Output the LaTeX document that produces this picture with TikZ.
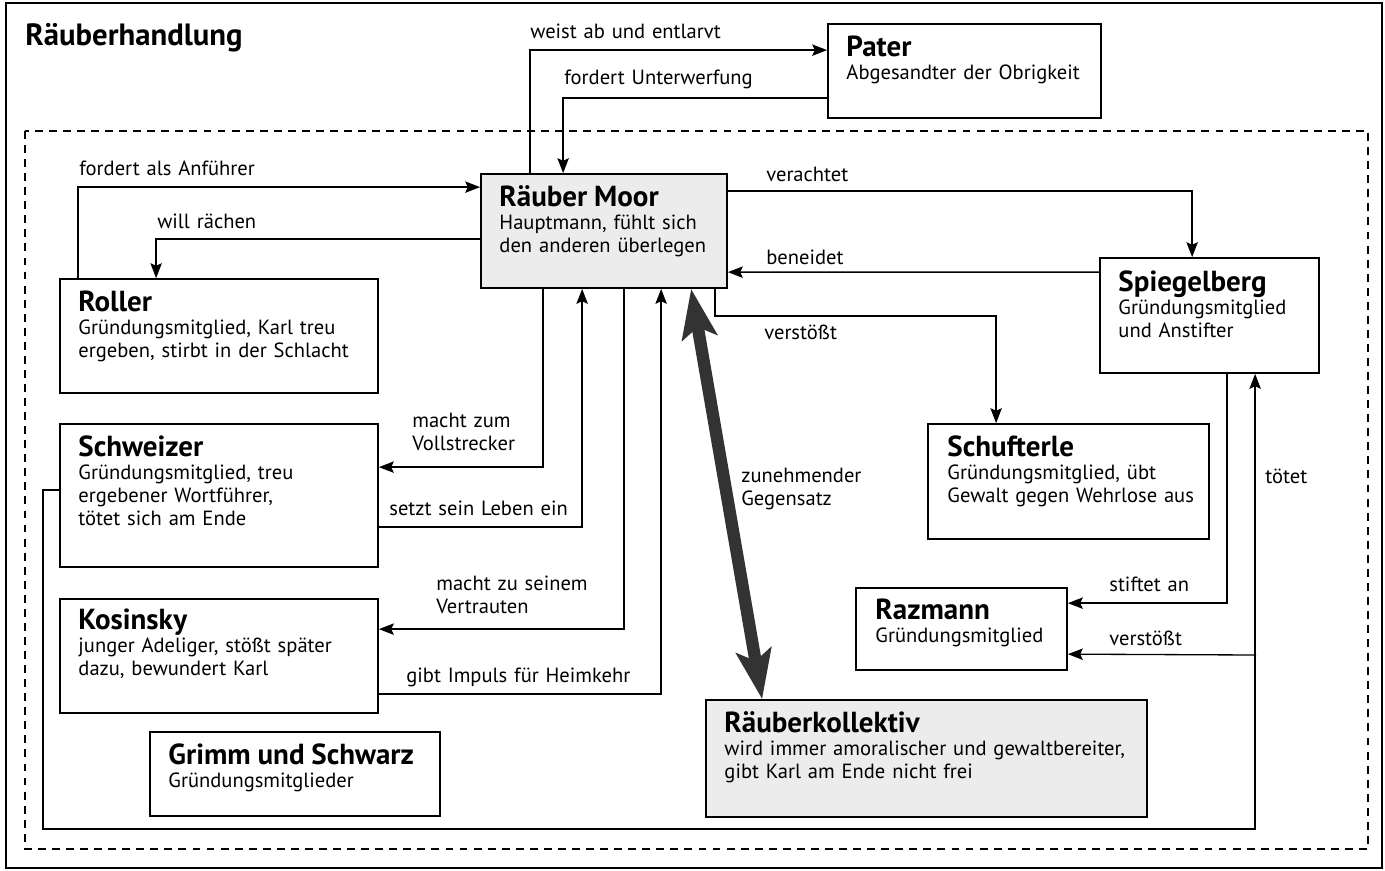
\documentclass[tikz,border=0pt]{standalone}
\usepackage{fontspec}
\setmainfont{PT Sans}
\usetikzlibrary{arrows.meta,fit}

\newcommand{\titel}[1]{{\fontsize{16.5}{13.2}\selectfont\bfseries #1}}

\tikzset{
  kasten/.style={draw, line width=1pt, inner sep=0pt},
  haupt/.style={kasten, fill=gray!15},
  inhalt/.style={anchor=base west, align=left, inner sep=0pt, text width=9cm,
    font=\fontsize{11.7}{13.2}\selectfont},
  bez/.style={anchor=base west, align=left, inner sep=0pt, text width=5cm,
    font=\fontsize{11.7}{13.2}\selectfont},
  rel/.style={line width=0.75pt, -{Stealth[length=8.5pt,width=6.5pt,inset=1.5pt]}},
  gegen/.style={line width=7pt, black!80,
    {Stealth[length=28pt,width=20pt,inset=6pt]}-{Stealth[length=28pt,width=20pt,inset=6pt]}}
}

\begin{document}
\begin{tikzpicture}[x=0.02cm,y=-0.02cm]
  \useasboundingbox (0,0) rectangle (1385,870);
  \draw[line width=1pt] (6,3) rectangle (1382,868);
  \draw[line width=0.6pt, dash pattern=on 4.5pt off 3.5pt] (25,131) rectangle (1368,849);
  \node[anchor=base west, inner sep=0pt, font=\fontsize{17.5}{18}\selectfont\bfseries] (titel) at (25,45) {Räuberhandlung};

  \node[kasten, fit={(828,24) (1101,118)}] (pater) {};
  \node[haupt, fit={(481,174) (727,288)}] (moor) {};
  \node[kasten, fit={(60,279) (378,393)}] (roller) {};
  \node[kasten, fit={(60,424) (378,567)}] (schweizer) {};
  \node[kasten, fit={(60,599) (378,713)}] (kosinsky) {};
  \node[kasten, fit={(150,732) (440,816)}] (grimm) {};
  \node[kasten, fit={(1100,258) (1319,373)}] (spiegelberg) {};
  \node[kasten, fit={(928,424) (1209,539)}] (schufterle) {};
  \node[kasten, fit={(856,588) (1067,670)}] (razmann) {};
  \node[haupt, fit={(706,700) (1147,817)}] (kollektiv) {};

  \node[inhalt] (pater-t) at ([shift={(19,33)}]pater.north west) {\titel{Pater}\\Abgesandter der Obrigkeit};
  \node[inhalt] (moor-t) at ([shift={(19,33)}]moor.north west) {\titel{Räuber Moor}\\Hauptmann, fühlt sich\\den anderen überlegen};
  \node[inhalt] (roller-t) at ([shift={(19,33)}]roller.north west) {\titel{Roller}\\Gründungsmitglied, Karl treu\\ergeben, stirbt in der Schlacht};
  \node[inhalt] (schweizer-t) at ([shift={(19,33)}]schweizer.north west) {\titel{Schweizer}\\Gründungsmitglied, treu\\ergebener Wortführer,\\tötet sich am Ende};
  \node[inhalt] (kosinsky-t) at ([shift={(19,31)}]kosinsky.north west) {\titel{Kosinsky}\\junger Adeliger, stößt später\\dazu, bewundert Karl};
  \node[inhalt] (grimm-t) at ([shift={(19,33)}]grimm.north west) {\titel{Grimm und Schwarz}\\Gründungsmitglieder};
  \node[inhalt] (spiegelberg-t) at ([shift={(19,34)}]spiegelberg.north west) {\titel{Spiegelberg}\\Gründungsmitglied\\und Anstifter};
  \node[inhalt] (schufterle-t) at ([shift={(20,33)}]schufterle.north west) {\titel{Schufterle}\\Gründungsmitglied, übt\\Gewalt gegen Wehrlose aus};
  \node[inhalt] (razmann-t) at ([shift={(20,32)}]razmann.north west) {\titel{Razmann}\\Gründungsmitglied};
  \node[inhalt] (kollektiv-t) at ([shift={(19,33)}]kollektiv.north west) {\titel{Räuberkollektiv}\\wird immer amoralischer und gewaltbereiter,\\gibt Karl am Ende nicht frei};

  \draw[rel] ([shift={(50,0)}]moor.north west) |- ([shift={(0,27)}]pater.north west);
  \draw[rel] ([shift={(0,75)}]pater.north west) -| ([shift={(83,0)}]moor.north west);
  \draw[rel] ([shift={(19,0)}]roller.north west) |- ([shift={(0,14)}]moor.north west);
  \draw[rel] ([shift={(0,66)}]moor.north west) -| ([shift={(97,0)}]roller.north west);
  \draw[rel] ([shift={(0,18)}]moor.north east) -| ([shift={(93,0)}]spiegelberg.north west);
  \draw[rel] ([shift={(0,15)}]spiegelberg.north west) -- ([shift={(0,99)}]moor.north east);
  \draw[rel] ([shift={(-13,0)}]moor.south east) -- ++(0,27) -| ([shift={(69,0)}]schufterle.north west);
  \draw[rel] ([shift={(63,0)}]moor.south west) |- ([shift={(0,44)}]schweizer.north east);
  \draw[rel] ([shift={(0,104)}]schweizer.north east) -| ([shift={(102,0)}]moor.south west);
  \draw[rel] ([shift={(144,0)}]moor.south west) |- ([shift={(0,31)}]kosinsky.north east);
  \draw[rel] ([shift={(0,96)}]kosinsky.north east) -| ([shift={(181,0)}]moor.south west);
  \draw[gegen] ([shift={(211,0)}]moor.south west) -- ([shift={(57,0)}]kollektiv.north west);
  \draw[rel] ([shift={(128,0)}]spiegelberg.south west) |- ([shift={(0,16)}]razmann.north east);
  \coordinate (ecke) at (43,829);
  \draw[rel] ([shift={(0,67)}]schweizer.north west) -| (ecke) -| ([shift={(156,0)}]spiegelberg.south west);
  \coordinate (abzweig) at (1256,655);
  \draw[rel] (abzweig) -- ([shift={(0,67)}]razmann.north east);

  \node[bez] (l-weist) at (530,38) {weist ab und entlarvt};
  \node[bez] (l-unterwerfung) at (564,84) {fordert Unterwerfung};
  \node[bez] (l-anfuehrer) at (79,175) {fordert als Anführer};
  \node[bez] (l-raechen) at (157,228) {will rächen};
  \node[bez] (l-verachtet) at (766,181) {verachtet};
  \node[bez] (l-beneidet) at (766,264) {beneidet};
  \node[bez] (l-verstoesst) at (764,339) {verstößt};
  \node[bez] (l-vollstrecker) at (412,427) {macht zum\\Vollstrecker};
  \node[bez] (l-leben) at (389,515) {setzt sein Leben ein};
  \node[bez] (l-vertrauten) at (436,590) {macht zu seinem\\Vertrauten};
  \node[bez] (l-impuls) at (406,682) {gibt Impuls für Heimkehr};
  \node[bez] (l-gegensatz) at (741,482) {zunehmender\\Gegensatz};
  \node[bez] (l-stiftet) at (1109,591) {stiftet an};
  \node[bez] (l-razmann) at (1109,645) {verstößt};
  \node[bez] (l-toetet) at (1265,483) {tötet};
\end{tikzpicture}
\end{document}
